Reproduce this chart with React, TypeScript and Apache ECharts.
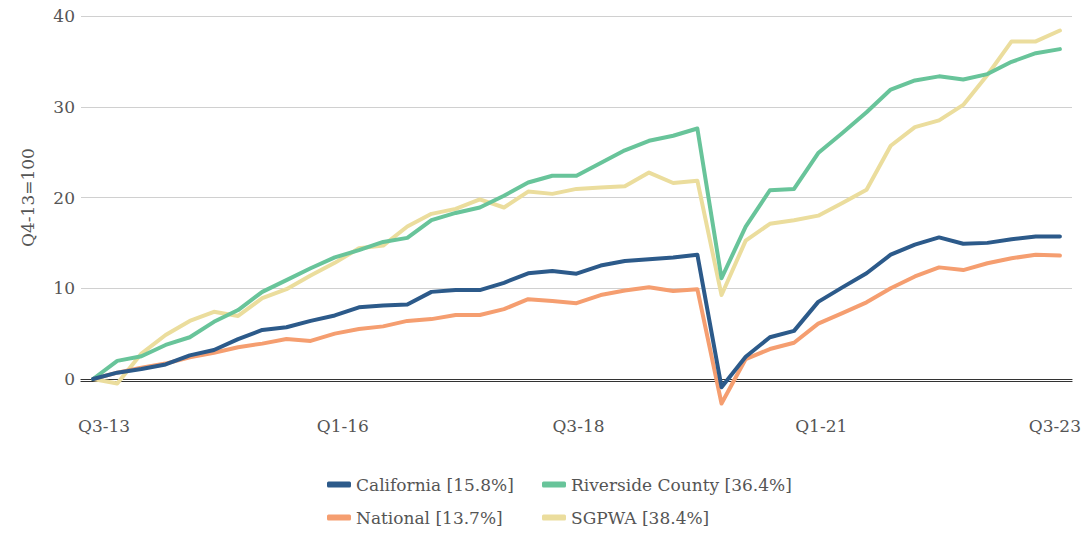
import React, { useEffect, useRef } from "react";
import * as echarts from "echarts";

const quarters = [
  "Q3-13", "Q4-13", "Q1-14", "Q2-14", "Q3-14", "Q4-14", "Q1-15", "Q2-15", "Q3-15", "Q4-15",
  "Q1-16", "Q2-16", "Q3-16", "Q4-16", "Q1-17", "Q2-17", "Q3-17", "Q4-17", "Q1-18", "Q2-18",
  "Q3-18", "Q4-18", "Q1-19", "Q2-19", "Q3-19", "Q4-19", "Q1-20", "Q2-20", "Q3-20", "Q4-20",
  "Q1-21", "Q2-21", "Q3-21", "Q4-21", "Q1-22", "Q2-22", "Q3-22", "Q4-22", "Q1-23", "Q2-23",
  "Q3-23",
];

const california = [
  0, 0.7, 1.1, 1.6, 2.6, 3.2, 4.4, 5.4, 5.7, 6.4, 7.0, 7.9, 8.1, 8.2, 9.6, 9.8, 9.8, 10.6,
  11.65, 11.9, 11.6, 12.5, 13.0, 13.2, 13.4, 13.7, -0.9, 2.45, 4.6, 5.3, 8.5, 10.1, 11.65,
  13.7, 14.8, 15.6, 14.9, 15.0, 15.4, 15.7, 15.7,
];

const national = [
  0, 0.7, 1.25, 1.7, 2.4, 2.9, 3.5, 3.9, 4.4, 4.2, 5.0, 5.5, 5.8, 6.4, 6.6, 7.05, 7.05, 7.7,
  8.8, 8.6, 8.35, 9.25, 9.75, 10.1, 9.7, 9.9, -2.7, 2.2, 3.3, 4.0, 6.1, 7.25, 8.45, 10.0,
  11.3, 12.3, 12.0, 12.75, 13.3, 13.7, 13.6,
];

const riverside = [
  0, 2.0, 2.5, 3.75, 4.6, 6.3, 7.6, 9.6, 10.9, 12.2, 13.4, 14.2, 15.1, 15.55, 17.5, 18.3,
  18.9, 20.2, 21.65, 22.4, 22.4, 23.8, 25.2, 26.25, 26.8, 27.6, 11.1, 16.8, 20.8, 20.95,
  24.9, 27.1, 29.4, 31.9, 32.9, 33.35, 33.0, 33.6, 34.95, 35.9, 36.35,
];

const sgpwa = [
  0, -0.5, 2.8, 4.85, 6.4, 7.4, 6.95, 8.9, 9.9, 11.4, 12.8, 14.4, 14.7, 16.8, 18.2, 18.75,
  19.8, 18.9, 20.65, 20.4, 20.95, 21.1, 21.25, 22.75, 21.6, 21.85, 9.25, 15.25, 17.1, 17.5,
  18.0, 19.4, 20.85, 25.7, 27.75, 28.5, 30.2, 33.5, 37.2, 37.2, 38.4,
];

const seriesNames = {
  california: "California [15.8%]",
  riverside: "Riverside County [36.4%]",
  national: "National [13.7%]",
  sgpwa: "SGPWA [38.4%]",
};

const yAxisTitle = "Q4-13=100";

const FONT = "'DejaVu Serif', serif";
const TEXT_COLOR = "#555555";

// small horizontal nudges of the x tick labels (style only)
const labelShift: Record<string, number> = {
  "Q3-13": 11,
  "Q1-16": 8,
  "Q3-18": 2,
  "Q1-21": 3,
  "Q3-23": -5,
};

export default function App() {
  const ref = useRef<HTMLDivElement>(null);

  useEffect(() => {
    document.body.style.margin = "0";
    if (!ref.current) return;
    const chart = echarts.init(ref.current, null, { renderer: "svg" });

    const mkLine = (name: string, data: number[], color: string, z: number) => ({
      name,
      type: "line",
      data,
      symbol: "none",
      showSymbol: false,
      clip: false,
      z,
      lineStyle: { color, width: 4, join: "round", cap: "round" },
      itemStyle: { color },
    });

    const legendCommon = {
      orient: "vertical",
      top: 471,
      itemGap: 16,
      itemWidth: 24,
      itemHeight: 6,
      icon: "roundRect",
      textStyle: { fontFamily: FONT, fontSize: 17, color: TEXT_COLOR },
    };

    const rich: Record<string, any> = {};
    Object.keys(labelShift).forEach((k, i) => {
      const s = labelShift[k];
      rich["s" + i] = {
        fontFamily: FONT,
        fontSize: 17,
        color: TEXT_COLOR,
        padding: s >= 0 ? [0, 0, 0, 2 * s] : [0, -2 * s, 0, 0],
      };
    });
    const keys = Object.keys(labelShift);

    chart.setOption({
      animation: false,
      backgroundColor: "#ffffff",
      grid: { left: 81, right: 17, top: 16, bottom: 156 },
      legend: [
        { ...legendCommon, left: 322, data: [seriesNames.california, seriesNames.national] },
        { ...legendCommon, left: 537, data: [seriesNames.riverside, seriesNames.sgpwa] },
      ],
      xAxis: [
        {
          type: "category",
          data: quarters,
          boundaryGap: true,
          axisLine: { show: true, lineStyle: { color: "#333333", width: 1.2 } },
          axisTick: { show: false },
          axisLabel: {
            interval: 9,
            margin: 38,
            fontFamily: FONT,
            fontSize: 17,
            color: TEXT_COLOR,
            formatter: (v: string) => {
              const i = keys.indexOf(v);
              return i >= 0 ? `{s${i}|${v}}` : v;
            },
            rich,
          },
          splitLine: { show: false },
        },
        {
          type: "category",
          data: quarters,
          position: "bottom",
          offset: 2,
          axisLine: { show: true, lineStyle: { color: "#333333", width: 1.2 } },
          axisTick: { show: false },
          axisLabel: { show: false },
          splitLine: { show: false },
        },
      ],
      yAxis: {
        type: "value",
        min: 0,
        max: 40,
        interval: 10,
        name: yAxisTitle,
        nameLocation: "middle",
        nameGap: 45,
        nameTextStyle: { fontFamily: FONT, fontSize: 17, color: TEXT_COLOR },
        axisLine: { show: false },
        axisTick: { show: false },
        axisLabel: { margin: 6, fontFamily: FONT, fontSize: 17, color: TEXT_COLOR },
        splitLine: { lineStyle: { color: "#d0d0d0", width: 1 } },
      },
      series: [
        mkLine(seriesNames.sgpwa, sgpwa, "#ebdd9d", 2),
        mkLine(seriesNames.national, national, "#f59e70", 3),
        mkLine(seriesNames.riverside, riverside, "#68c49a", 4),
        mkLine(seriesNames.california, california, "#2c5a8a", 5),
      ],
    });

    return () => chart.dispose();
  }, []);

  return <div ref={ref} style={{ width: 1089, height: 535 }} />;
}
